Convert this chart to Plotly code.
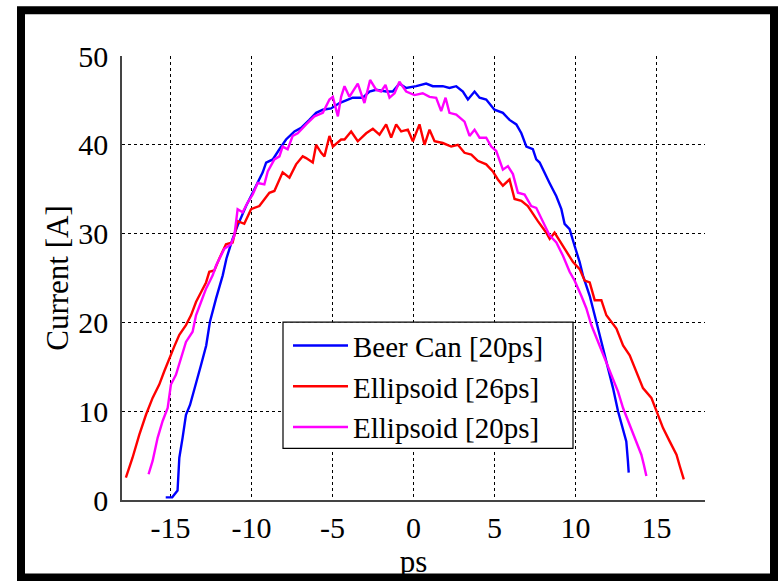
import plotly.graph_objects as go

# ---- data ----
beer_x = [-15.3, -14.9, -14.57, -14.46, -14.26, -14.05, -13.8, -13.43, -13.12, -12.8, -12.57, -12.19,
          -11.78, -11.55, -11.17, -10.86, -10.34, -9.93, -9.62, -9.31, -9.1, -8.69, -8.28, -7.87,
          -7.35, -6.94, -6.43, -6.01, -5.6, -5.09, -4.57, -3.96, -3.75, -3.13, -2.72, -2.31, -1.69,
          -1.28, -0.87, -0.45, 0.17, 0.78, 1.19, 1.81, 2.22, 2.64, 3.05, 3.36, 3.77, 4.08, 4.49,
          5.0, 5.52, 5.93, 6.35, 6.66, 6.97, 7.37, 7.58, 7.79, 7.99, 8.4, 8.82, 9.13, 9.33, 9.64,
          9.95, 10.26, 10.46, 10.88, 11.29, 11.7, 12.01, 12.32, 12.63, 12.94, 13.14, 13.24, 13.29]
beer_y = [0.3, 0.3, 1.06, 4.76, 7.0, 9.6, 10.7, 13.0, 15.2, 17.4, 20.07, 22.7,
          25.3, 27.2, 29.4, 30.9, 33.1, 34.6, 35.7, 36.9, 38.0, 38.35, 39.5, 40.6,
          41.5, 41.9, 42.8, 43.6, 43.95, 44.1, 44.7, 45.15, 45.3, 45.3, 46.0, 46.2, 46.0,
          46.0, 46.9, 46.4, 46.6, 46.9, 46.6, 46.6, 46.4, 46.6, 46.0, 45.1, 46.0, 45.3, 45.1,
          43.95, 43.6, 42.8, 42.3, 41.3, 39.8, 39.5, 38.35, 38.0, 37.2, 35.7, 34.2, 32.75, 31.1, 30.5,
          28.6, 26.8, 25.3, 23.0, 20.07, 17.1, 14.8, 12.6, 10.0, 8.1, 6.6, 4.4, 3.08]

ell26_x = [-17.76, -17.35, -16.93, -16.52, -16.11, -15.7, -15.39, -15.08, -14.77, -14.46, -14.05, -13.74,
           -13.43, -13.12, -12.81, -12.61, -12.3, -11.99, -11.58, -11.17, -10.86, -10.45, -10.03, -9.52,
           -8.9, -8.59, -8.08, -7.66, -7.25, -6.84, -6.63, -6.22, -6.01, -5.7, -5.5, -5.19, -4.98,
           -4.47, -4.26, -3.85, -3.44, -2.92, -2.51, -2.1, -1.69, -1.38, -1.07, -0.76, -0.35, -0.04,
           0.37, 0.68, 0.99, 1.3, 1.81, 2.33, 2.74, 3.15, 3.57, 3.97, 4.49, 4.9, 5.21, 5.52, 5.93,
           6.24, 6.66, 7.06, 7.37, 7.68, 8.2, 8.41, 8.71, 9.23, 9.85, 10.26, 10.57, 10.88, 11.19,
           11.6, 11.91, 12.53, 12.94, 13.35, 13.76, 14.17, 14.69, 15.0, 15.41, 15.82, 16.24, 16.44, 16.69]
ell26_y = [2.52, 4.76, 7.37, 9.6, 11.5, 13.0, 14.5, 16.0, 17.3, 18.6, 19.7, 20.8,
           22.3, 23.4, 24.5, 25.7, 25.85, 27.2, 28.8, 29.0, 31.4, 31.1, 32.75, 33.1,
           34.6, 34.8, 36.9, 36.3, 37.8, 38.7, 38.5, 38.0, 40.0, 39.1, 38.7, 41.0, 39.8,
           40.6, 40.6, 41.5, 40.4, 41.3, 41.8, 41.15, 42.3, 40.8, 42.3, 41.5, 41.7, 40.4,
           42.3, 40.0, 41.7, 40.4, 40.2, 39.8, 40.0, 39.1, 38.9, 38.2, 37.8, 37.0, 36.1, 35.4, 36.1,
           33.9, 33.7, 33.1, 32.2, 31.4, 30.1, 29.4, 30.1, 28.6, 26.8, 26.0, 24.7, 24.5, 22.5,
           22.5, 20.8, 19.3, 17.4, 16.3, 14.5, 12.6, 11.5, 10.0, 8.1, 6.6, 5.1, 3.83, 2.33]

ell20_x = [-16.36, -16.11, -15.8, -15.49, -15.18, -14.98, -14.67, -14.36, -14.05, -13.64, -13.43, -13.12,
           -12.81, -12.4, -12.19, -11.68, -11.27, -11.06, -10.86, -10.55, -10.24, -9.93, -9.62, -9.21,
           -9.0, -8.59, -8.28, -8.08, -7.77, -7.46, -7.15, -6.63, -6.12, -5.6, -5.19, -4.98, -4.67,
           -4.47, -4.26, -3.96, -3.44, -3.03, -2.68, -2.31, -2.0, -1.73, -1.48, -1.17, -0.87, -0.45,
           0.06, 0.57, 0.99, 1.4, 1.71, 1.98, 2.22, 2.64, 3.15, 3.46, 3.77, 4.08, 4.49, 4.8, 5.11,
           5.52, 5.83, 6.14, 6.45, 6.86, 7.27, 7.58, 7.99, 8.4, 8.82, 9.23, 9.64, 9.95, 10.36, 10.67,
           10.98, 11.39, 11.8, 12.22, 12.63, 12.94, 13.35, 13.76, 14.07, 14.22, 14.38]
ell20_y = [2.9, 4.4, 7.0, 8.9, 10.36, 13.0, 14.1, 16.0, 17.8, 18.95, 20.8, 22.3,
           23.8, 25.3, 26.4, 28.3, 28.8, 29.8, 32.75, 32.4, 33.5, 34.4, 35.7, 35.55,
           37.0, 38.35, 38.7, 39.8, 39.5, 41.0, 41.3, 42.3, 43.2, 43.6, 45.1, 45.4, 43.2,
           45.4, 46.6, 45.4, 46.9, 44.7, 47.3, 46.2, 46.0, 46.75, 45.3, 45.8, 47.1, 46.0,
           45.6, 45.8, 45.4, 45.3, 43.8, 45.3, 43.6, 43.4, 42.6, 41.0, 41.7, 40.8, 40.8, 39.8, 39.3,
           37.2, 37.6, 36.7, 34.6, 34.4, 33.1, 32.9, 31.3, 29.8, 29.0, 27.5, 25.7, 24.7, 23.0, 21.6,
           19.7, 17.8, 16.0, 14.1, 12.2, 10.36, 8.5, 6.6, 5.1, 4.0, 2.7]

series_names = ["Beer Can [20ps]", "Ellipsoid [26ps]", "Ellipsoid [20ps]"]
series_colors = ["#0000ff", "#ff0000", "#ff00ff"]

x_tickvals = [-15, -10, -5, 0, 5, 10, 15]
x_ticktext = ["-15", "-10", "-5", "0", "5", "10", "15"]
y_tickvals = [0, 10, 20, 30, 40, 50]
y_ticktext = ["0", "10", "20", "30", "40", "50"]

FONT = "Liberation Serif"

fig = go.Figure()
for xs, ys, name, col in zip([beer_x, ell26_x, ell20_x], [beer_y, ell26_y, ell20_y],
                             series_names, series_colors):
    fig.add_trace(go.Scatter(x=xs, y=ys, mode="lines", name=name,
                             line=dict(color=col, width=2.4)))

L, R, T, B = 122, 78, 56, 78
W, H = 783, 581
pw, ph = W - L - R, H - T - B

def px_to_paper_x(px):
    return (px - L) / pw

def py_to_paper_y(py):
    return (H - B - py) / ph

fig.update_layout(
    width=W, height=H,
    margin=dict(l=L, r=R, t=T, b=B),
    paper_bgcolor="white", plot_bgcolor="white",
    font=dict(family=FONT, color="black", size=30),
    showlegend=True,
    legend=dict(x=px_to_paper_x(288), y=py_to_paper_y(322), xanchor="left", yanchor="top",
                bgcolor="rgba(0,0,0,0)", borderwidth=0,
                font=dict(family=FONT, size=29, color="black"),
                itemwidth=55, tracegroupgap=0),
    xaxis=dict(range=[-18, 18], tickvals=x_tickvals, ticktext=x_ticktext,
               showgrid=True, gridcolor="black", gridwidth=1, griddash="3px,3px",
               zeroline=False, showline=True, linecolor="#444444", linewidth=1.5,
               ticks="", tickfont=dict(family=FONT, size=30),
               title=dict(text="ps", font=dict(family=FONT, size=31), standoff=4)),
    yaxis=dict(range=[0, 50], tickvals=y_tickvals, ticktext=y_ticktext,
               showgrid=True, gridcolor="black", gridwidth=1, griddash="3px,3px",
               zeroline=False, showline=True, linecolor="#444444", linewidth=1.5,
               ticks="", tickfont=dict(family=FONT, size=30), ticklabelstandoff=6,
               title=dict(text="Current [A]", font=dict(family=FONT, size=31), standoff=0)),
    shapes=[
        dict(type="rect", xref="paper", yref="paper",
             x0=px_to_paper_x(21), x1=px_to_paper_x(774),
             y0=py_to_paper_y(581), y1=py_to_paper_y(10),
             line=dict(color="black", width=8), fillcolor="rgba(0,0,0,0)", layer="below"),
        dict(type="rect", xref="paper", yref="paper",
             x0=px_to_paper_x(283), x1=px_to_paper_x(573),
             y0=py_to_paper_y(451), y1=py_to_paper_y(324),
             line=dict(color="black", width=1.2), fillcolor="white", layer="above"),
    ],
)

fig.write_html("out.html")
